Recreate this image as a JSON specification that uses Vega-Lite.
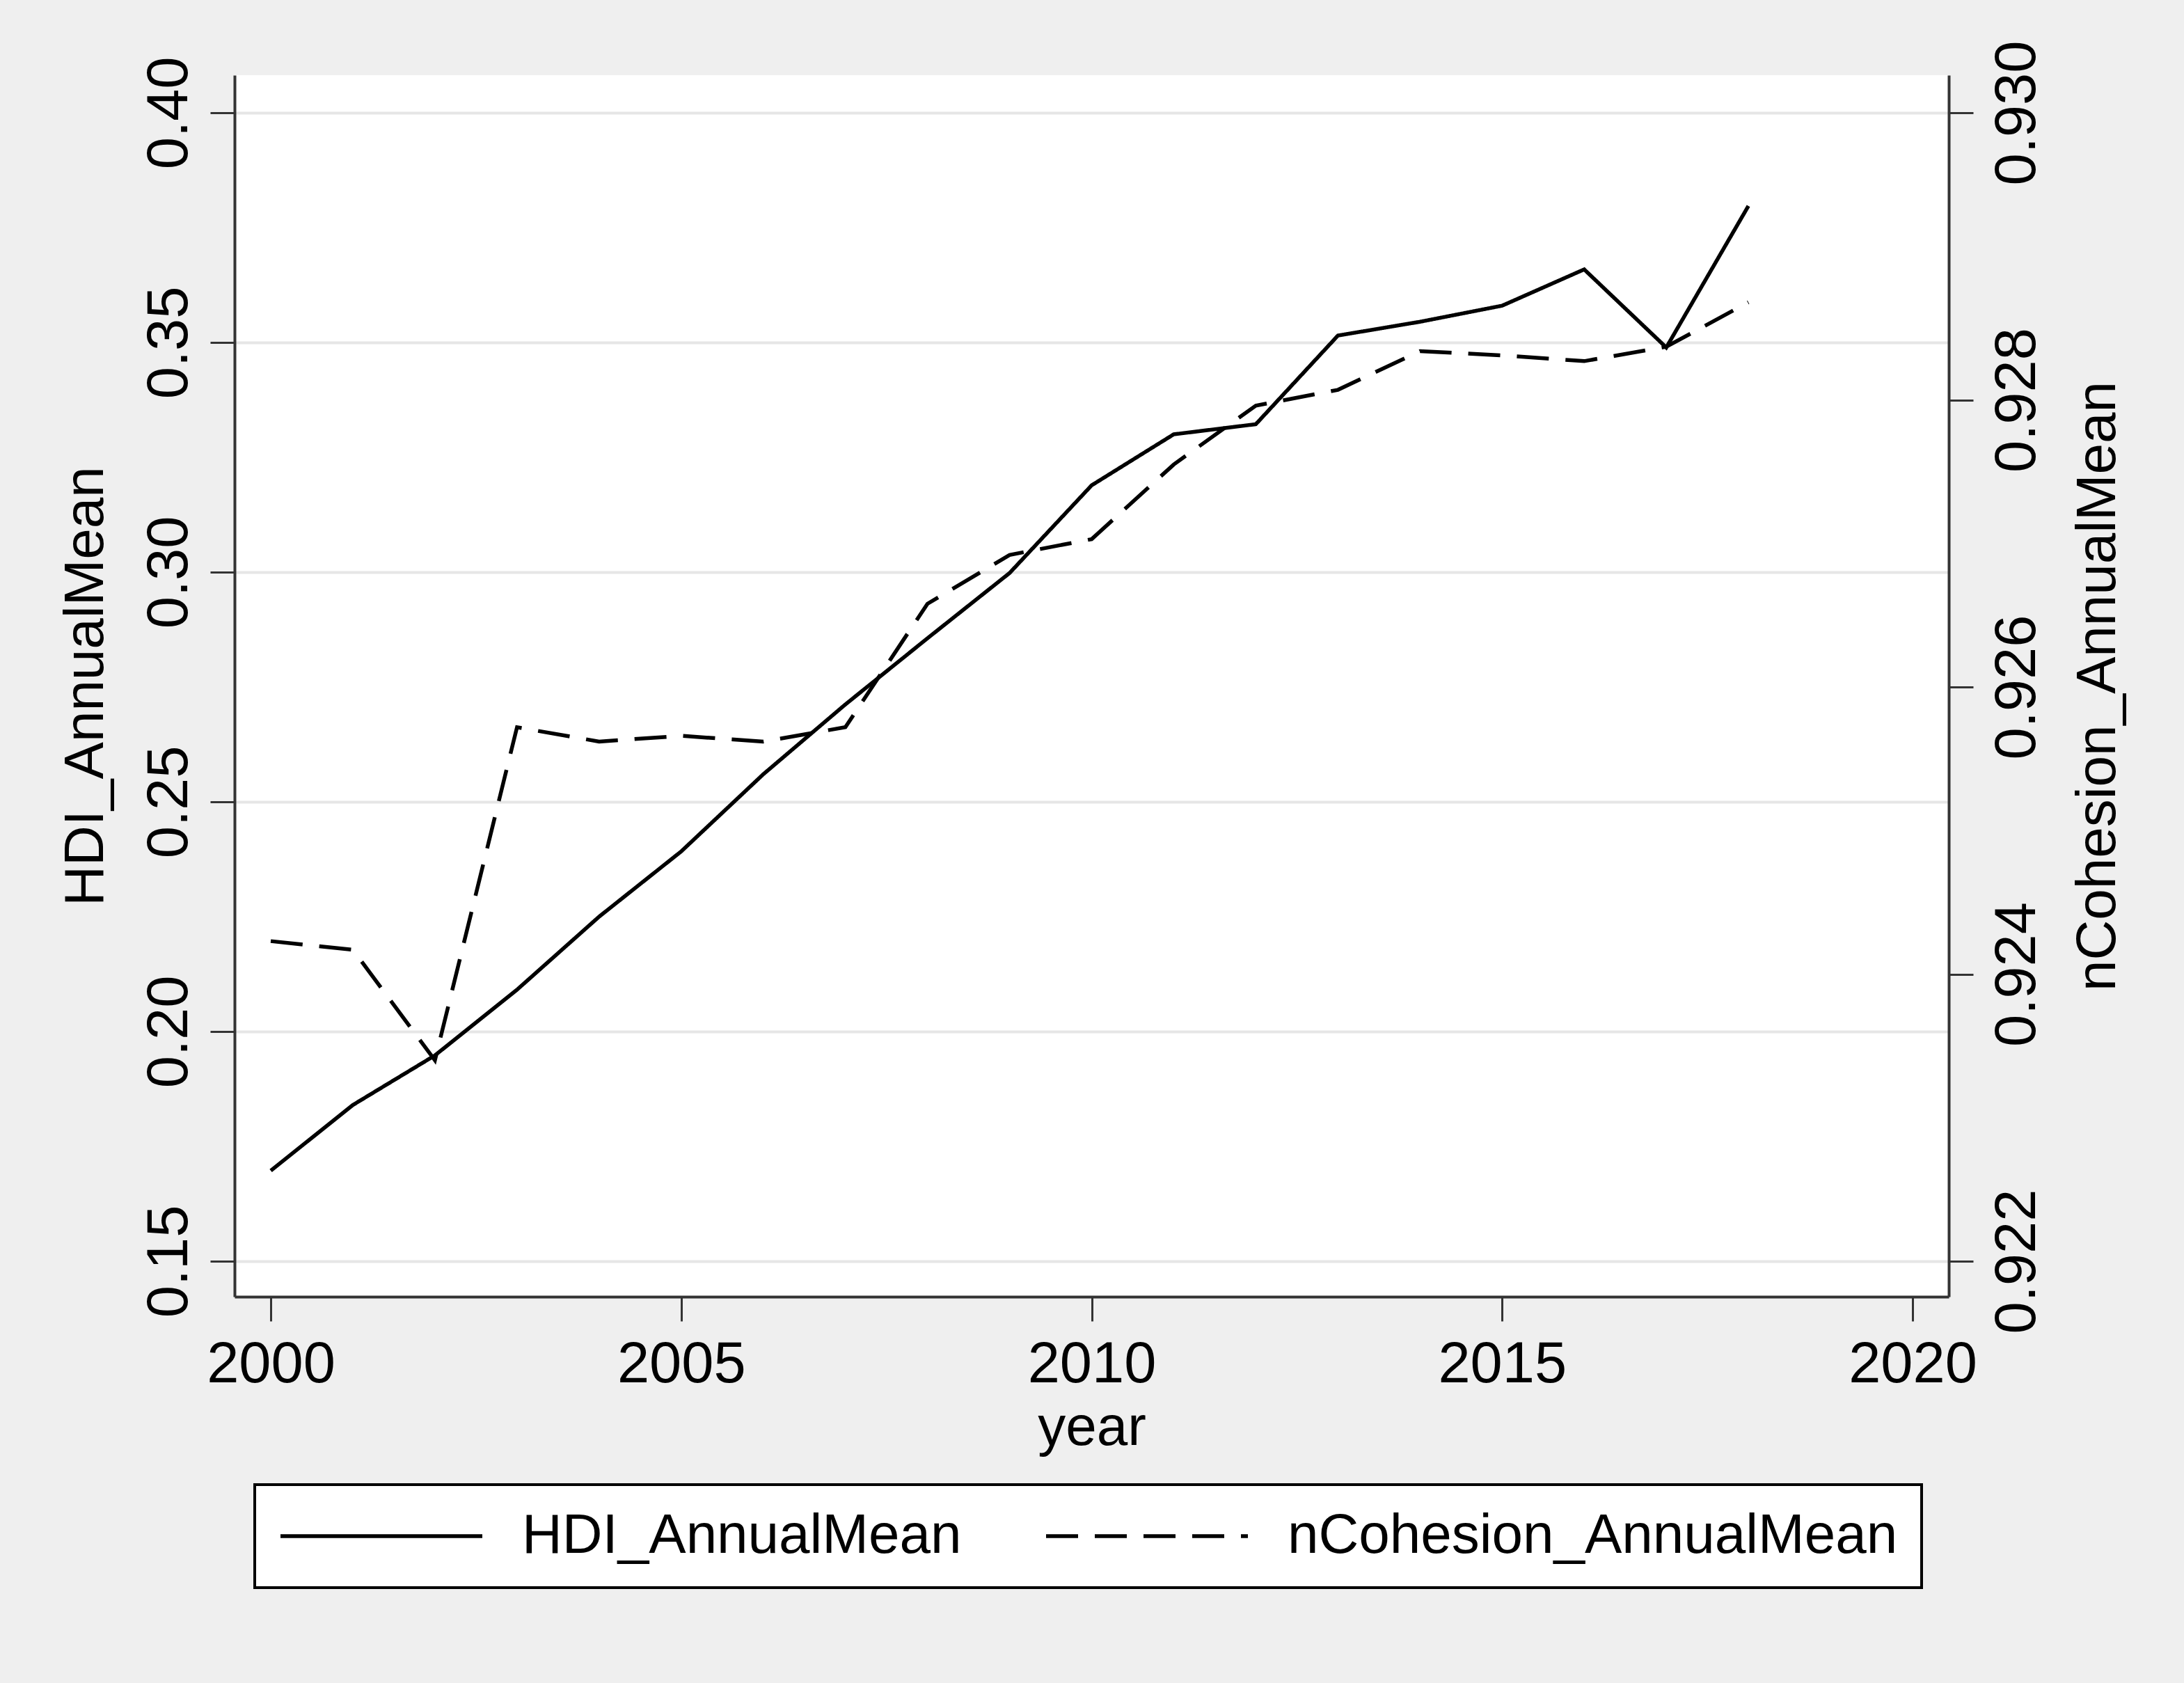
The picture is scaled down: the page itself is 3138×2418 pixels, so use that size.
{
  "$schema": "https://vega.github.io/schema/vega-lite/v6.json",
  "width": 2463,
  "height": 1755,
  "autosize": {"type": "none"},
  "padding": {"left": 337, "top": 108, "right": 338, "bottom": 555},
  "background": "#EFEFEF",
  "config": {
    "view": {"fill": "white", "stroke": null},
    "font": "Liberation Sans",
    "axis": {
      "domainColor": "#333333",
      "domainWidth": 4,
      "tickColor": "#333333",
      "tickWidth": 3,
      "tickSize": 35,
      "labelColor": "black",
      "titleColor": "black",
      "labelFont": "Liberation Sans",
      "titleFont": "Liberation Sans",
      "titleFontWeight": "normal",
      "labelFontSize": 83,
      "titleFontSize": 80,
      "labelFlush": false,
      "labelOverlap": false,
      "labelBound": false,
      "labelLimit": 0,
      "titleLimit": 0
    },
    "legend": {"strokeWidth": 4, "labelLimit": 0}
  },
  "data": {
    "values": [
      {"year": 2000, "HDI_AnnualMean": 0.1697, "nCohesion_AnnualMean": 0.92423},
      {"year": 2001, "HDI_AnnualMean": 0.1840, "nCohesion_AnnualMean": 0.92417},
      {"year": 2002, "HDI_AnnualMean": 0.1948, "nCohesion_AnnualMean": 0.92340},
      {"year": 2003, "HDI_AnnualMean": 0.2091, "nCohesion_AnnualMean": 0.92572},
      {"year": 2004, "HDI_AnnualMean": 0.2250, "nCohesion_AnnualMean": 0.92562},
      {"year": 2005, "HDI_AnnualMean": 0.2392, "nCohesion_AnnualMean": 0.92566},
      {"year": 2006, "HDI_AnnualMean": 0.2560, "nCohesion_AnnualMean": 0.92562},
      {"year": 2007, "HDI_AnnualMean": 0.2712, "nCohesion_AnnualMean": 0.92572},
      {"year": 2008, "HDI_AnnualMean": 0.2856, "nCohesion_AnnualMean": 0.92658},
      {"year": 2009, "HDI_AnnualMean": 0.2998, "nCohesion_AnnualMean": 0.92692},
      {"year": 2010, "HDI_AnnualMean": 0.3189, "nCohesion_AnnualMean": 0.92703},
      {"year": 2011, "HDI_AnnualMean": 0.3300, "nCohesion_AnnualMean": 0.92755},
      {"year": 2012, "HDI_AnnualMean": 0.3322, "nCohesion_AnnualMean": 0.92796},
      {"year": 2013, "HDI_AnnualMean": 0.3515, "nCohesion_AnnualMean": 0.92807},
      {"year": 2014, "HDI_AnnualMean": 0.3545, "nCohesion_AnnualMean": 0.92834},
      {"year": 2015, "HDI_AnnualMean": 0.3580, "nCohesion_AnnualMean": 0.92831},
      {"year": 2016, "HDI_AnnualMean": 0.3659, "nCohesion_AnnualMean": 0.92827},
      {"year": 2017, "HDI_AnnualMean": 0.3489, "nCohesion_AnnualMean": 0.92837},
      {"year": 2018, "HDI_AnnualMean": 0.3797, "nCohesion_AnnualMean": 0.92868}
    ]
  },
  "encoding": {
    "x": {
      "field": "year",
      "type": "quantitative",
      "scale": {"domain": [1999.559, 2020.441], "nice": false, "zero": false},
      "axis": {
        "title": "year",
        "values": [2000, 2005, 2010, 2015, 2020],
        "format": "d",
        "grid": false,
        "labelPadding": 21,
        "titleY": 212,
        "titleBaseline": "alphabetic"
      }
    }
  },
  "layer": [
    {
      "mark": {"type": "line", "color": "black", "strokeWidth": 5.5},
      "encoding": {
        "y": {
          "field": "HDI_AnnualMean",
          "type": "quantitative",
          "scale": {"domain": [0.14227, 0.40818], "nice": false, "zero": false},
          "axis": {
            "title": "HDI_AnnualMean",
            "values": [0.15, 0.2, 0.25, 0.3, 0.35, 0.4],
            "format": ".2f",
            "labelAngle": -90,
            "labelAlign": "center",
            "labelBaseline": "alphabetic",
            "labelPadding": 34,
            "grid": true,
            "gridColor": "#E6E6E6",
            "gridWidth": 4,
            "titleAngle": -90,
            "titleX": -190,
            "titleY": 877.5,
            "titleAlign": "center",
            "titleBaseline": "alphabetic"
          }
        },
        "strokeDash": {
          "datum": "HDI_AnnualMean",
          "scale": {"domain": ["HDI_AnnualMean", "nCohesion_AnnualMean"], "range": [[1, 0], [46, 24]]},
          "legend": {
            "orient": "none",
            "legendX": 29,
            "legendY": 2025,
            "direction": "horizontal",
            "title": null,
            "symbolType": "stroke",
            "symbolSize": 84100,
            "symbolStrokeWidth": 5.5,
            "symbolStrokeColor": "black",
            "clipHeight": 80,
            "labelFontSize": 80,
            "labelFont": "Liberation Sans",
            "labelColor": "black",
            "labelLimit": 0,
            "labelOffset": 54,
            "columnPadding": 118,
            "padding": 34,
            "fillColor": "white",
            "strokeColor": "black"
          }
        }
      }
    },
    {
      "mark": {"type": "line", "color": "black", "strokeWidth": 5.5},
      "encoding": {
        "y": {
          "field": "nCohesion_AnnualMean",
          "type": "quantitative",
          "scale": {"domain": [0.921753, 0.930262], "nice": false, "zero": false},
          "axis": {
            "orient": "right",
            "title": "nCohesion_AnnualMean",
            "values": [0.922, 0.924, 0.926, 0.928, 0.93],
            "format": ".3f",
            "labelAngle": -90,
            "labelAlign": "center",
            "labelBaseline": "alphabetic",
            "labelPadding": 88,
            "grid": false,
            "titleAngle": -90,
            "titleX": 238,
            "titleY": 877.5,
            "titleAlign": "center",
            "titleBaseline": "alphabetic"
          }
        },
        "strokeDash": {"datum": "nCohesion_AnnualMean"}
      }
    }
  ],
  "resolve": {"scale": {"y": "independent"}}
}
